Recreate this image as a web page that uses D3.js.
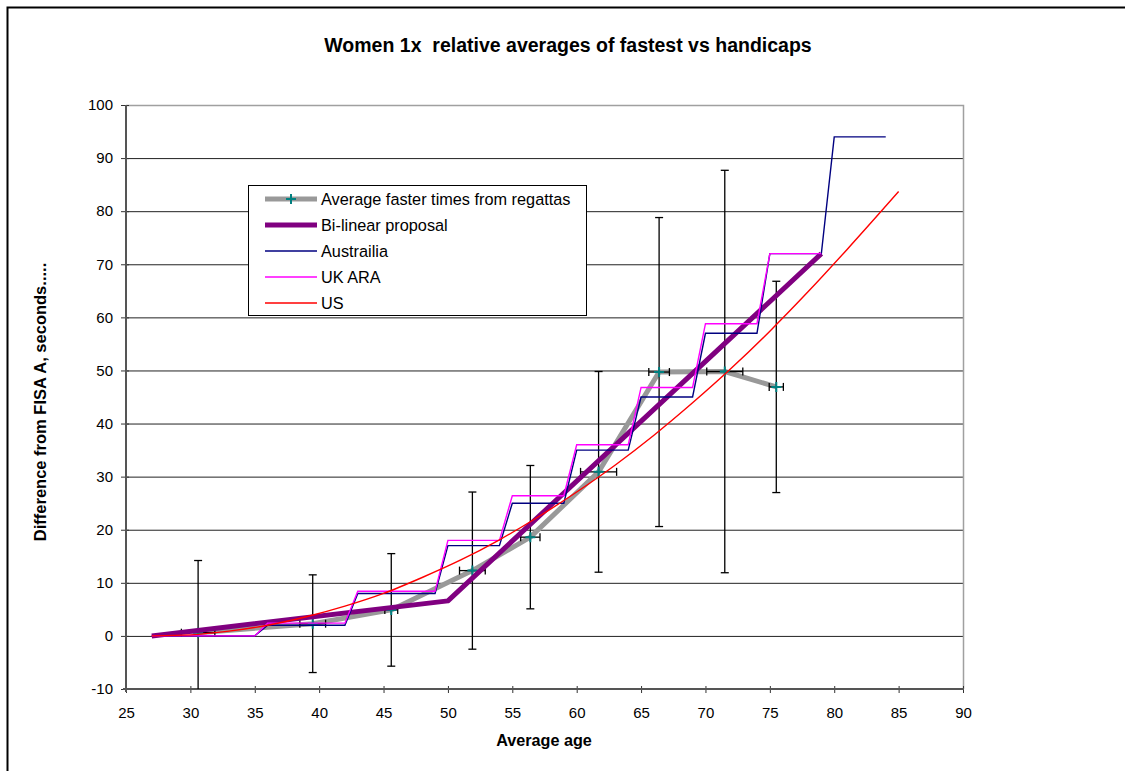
<!DOCTYPE html>
<html>
<head>
<meta charset="utf-8">
<script src="https://cdn.jsdelivr.net/npm/d3@7"></script>
<style>
  body { margin: 0; background: #fff; }
  text { font-family: "Liberation Sans", Arial, sans-serif; }
</style>
</head>
<body>
<script>
// average faster times from regattas (with error bars)
const avgAge = [30.6, 39.5, 45.6, 51.9, 56.4, 61.7, 66.4, 71.5, 75.5]
const avgTime = [0.6, 2.3, 4.9, 12.3, 18.6, 30.9, 49.7, 49.8, 46.9]
const ageErr = [1.3, 1.0, 0.5, 1.0, 0.75, 1.4, 0.8, 1.4, 0.55]
const timeErr = [13.6, 9.2, 10.6, 14.8, 13.5, 18.9, 29.1, 37.9, 19.9]

// bi-linear proposal
const bilinAge = [27, 50, 79]
const bilinTime = [0, 6.6, 72]

// Austrailia steps
const ausAge = [27, 35, 36, 42, 43, 49, 50, 54, 55, 59, 60, 64, 65, 69, 70, 74, 75, 79, 80, 84]
const ausTime = [0, 0, 2, 2, 8, 8, 17, 17, 25, 25, 35, 35, 45, 45, 57, 57, 72, 72, 94, 94]

// UK ARA steps
const ukAge = [27, 35, 36, 42, 43, 49, 50, 54, 55, 59, 60, 64, 65, 69, 70, 74, 75, 79]
const ukTime = [0, 0, 2.4, 2.4, 8.4, 8.4, 18, 18, 26.4, 26.4, 36, 36, 46.8, 46.8, 58.8, 58.8, 72, 72]

// US curve
const usAge = [27, 30, 33, 36, 39, 42, 45, 48, 51, 54, 57, 60, 63, 66, 69, 72, 75, 78, 81, 85]
const usTime = [0, 0.2, 0.9, 2.0, 3.6, 5.6, 8.0, 11.0, 14.3, 18.1, 22.4, 27.1, 32.2, 37.8, 43.9, 50.4, 57.4, 64.9, 72.8, 83.7]

const xTicks = [25, 30, 35, 40, 45, 50, 55, 60, 65, 70, 75, 80, 85, 90]
const yTicks = [-10, 0, 10, 20, 30, 40, 50, 60, 70, 80, 90, 100]

const legendNames = ['Average faster times from regattas', 'Bi-linear proposal', 'Austrailia', 'UK ARA', 'US']

const width = 1125
const height = 771
const plot = {left: 126, right: 963, top: 105, bottom: 689}

const svg = d3.select('body')
  .append('svg')
  .attr('width', width)
  .attr('height', height)

svg.append('rect')
  .attr('x', 0).attr('y', 0)
  .attr('width', width).attr('height', height)
  .attr('fill', '#fff')

// outer chart border
svg.append('rect')
  .attr('x', 7.5).attr('y', 7.5)
  .attr('width', width + 20).attr('height', height + 20)
  .attr('fill', 'none')
  .attr('stroke', '#000')
  .attr('stroke-width', 2)

const x = d3.scaleLinear().domain([25, 90]).range([plot.left, plot.right])
const y = d3.scaleLinear().domain([-10, 100]).range([plot.bottom, plot.top])

svg.append('defs').append('clipPath')
  .attr('id', 'clip')
  .append('rect')
  .attr('x', plot.left).attr('y', plot.top)
  .attr('width', plot.right - plot.left).attr('height', plot.bottom - plot.top)

// gridlines
svg.append('g')
  .selectAll('line')
  .data(yTicks.filter((d) => d > -10 && d < 100))
  .enter()
  .append('line')
  .attr('x1', plot.left).attr('x2', plot.right)
  .attr('y1', (d) => y(d) + 0.5).attr('y2', (d) => y(d) + 0.5)
  .attr('stroke', '#222')
  .attr('stroke-width', 1)

// plot area border (top/right grey)
svg.append('path')
  .attr('d', `M${plot.left},${plot.top + 0.5}H${plot.right + 0.5}V${plot.bottom}`)
  .attr('fill', 'none')
  .attr('stroke', '#a0a0a0')
  .attr('stroke-width', 1.5)

// axes
const fmt = (d) => String(d)
const xAxis = svg.append('g')
  .attr('transform', `translate(0,${plot.bottom})`)
  .call(d3.axisBottom(x).tickValues(xTicks).tickFormat(fmt).tickSizeInner(4).tickSizeOuter(0).tickPadding(14))
xAxis.select('.domain').remove()
xAxis.selectAll('.tick line').attr('y1', -3).attr('stroke', '#333')
xAxis.selectAll('text').attr('font-size', 15).attr('fill', '#000')
  .attr('font-family', '"Liberation Sans", Arial, sans-serif')

const yAxis = svg.append('g')
  .attr('transform', `translate(${plot.left},0)`)
  .call(d3.axisLeft(y).tickValues(yTicks).tickFormat(fmt).tickSizeInner(5).tickSizeOuter(0).tickPadding(8))
yAxis.select('.domain').remove()
yAxis.selectAll('.tick line').attr('x1', 3).attr('stroke', '#333')
yAxis.selectAll('text').attr('font-size', 15).attr('fill', '#000')
  .attr('font-family', '"Liberation Sans", Arial, sans-serif')

svg.append('line')
  .attr('x1', plot.left - 3).attr('x2', plot.right + 1)
  .attr('y1', plot.bottom).attr('y2', plot.bottom)
  .attr('stroke', '#555').attr('stroke-width', 2)
svg.append('line')
  .attr('x1', plot.left).attr('x2', plot.left)
  .attr('y1', plot.top).attr('y2', plot.bottom + 3)
  .attr('stroke', '#555').attr('stroke-width', 2)

const chart = svg.append('g').attr('clip-path', 'url(#clip)')

const toPts = (xs, ys) => xs.map((v, i) => [v, ys[i]])
const line = d3.line().x((d) => x(d[0])).y((d) => y(d[1]))
const smooth = d3.line().x((d) => x(d[0])).y((d) => y(d[1])).curve(d3.curveMonotoneX)

const avgPts = toPts(avgAge, avgTime)

chart.append('path')
  .attr('d', line(avgPts))
  .attr('fill', 'none')
  .attr('stroke', '#999')
  .attr('stroke-width', 5)
  .attr('stroke-linejoin', 'round')

// error bars
const eb = chart.append('g').attr('stroke', '#000').attr('stroke-width', 1.3)
avgPts.forEach((p, i) => {
  const cx = x(p[0])
  const cy = y(p[1])
  const top = y(p[1] + timeErr[i])
  const bot = y(p[1] - timeErr[i])
  const l = x(p[0] - ageErr[i])
  const r = x(p[0] + ageErr[i])
  eb.append('line').attr('x1', cx).attr('x2', cx).attr('y1', top).attr('y2', bot)
  eb.append('line').attr('x1', cx - 4).attr('x2', cx + 4).attr('y1', top).attr('y2', top)
  eb.append('line').attr('x1', cx - 4).attr('x2', cx + 4).attr('y1', bot).attr('y2', bot)
  eb.append('line').attr('x1', l).attr('x2', r).attr('y1', cy).attr('y2', cy)
  eb.append('line').attr('x1', l).attr('x2', l).attr('y1', cy - 4).attr('y2', cy + 4)
  eb.append('line').attr('x1', r).attr('x2', r).attr('y1', cy - 4).attr('y2', cy + 4)
})

// markers
chart.append('g')
  .selectAll('path')
  .data(avgPts)
  .enter()
  .append('path')
  .attr('d', (d) => `M${x(d[0]) - 5},${y(d[1])}h10M${x(d[0])},${y(d[1]) - 5}v10`)
  .attr('stroke', '#008080')
  .attr('stroke-width', 2)

chart.append('path')
  .attr('d', line(toPts(bilinAge, bilinTime)))
  .attr('fill', 'none')
  .attr('stroke', '#800080')
  .attr('stroke-width', 5)
  .attr('stroke-linejoin', 'round')

chart.append('path')
  .attr('d', line(toPts(ausAge, ausTime)))
  .attr('fill', 'none')
  .attr('stroke', '#000080')
  .attr('stroke-width', 1.4)

chart.append('path')
  .attr('d', line(toPts(ukAge, ukTime)))
  .attr('fill', 'none')
  .attr('stroke', '#ff00ff')
  .attr('stroke-width', 1.4)

chart.append('path')
  .attr('d', smooth(toPts(usAge, usTime)))
  .attr('fill', 'none')
  .attr('stroke', '#ff0000')
  .attr('stroke-width', 1.4)

// legend
const legend = svg.append('g')
legend.append('rect')
  .attr('x', 248.5).attr('y', 185.5)
  .attr('width', 338).attr('height', 130)
  .attr('fill', '#fff')
  .attr('stroke', '#000')
  .attr('stroke-width', 1)

const legendStyle = [
  {color: '#999', w: 5},
  {color: '#800080', w: 5},
  {color: '#000080', w: 1.4},
  {color: '#ff00ff', w: 1.4},
  {color: '#ff0000', w: 1.4}
]

const item = legend.selectAll('.item')
  .data(legendNames)
  .enter()
  .append('g')
  .attr('transform', (d, i) => `translate(0,${199 + i * 26})`)

item.append('line')
  .attr('x1', 265).attr('x2', 317)
  .attr('stroke', (d, i) => legendStyle[i].color)
  .attr('stroke-width', (d, i) => legendStyle[i].w)

item.filter((d, i) => i === 0)
  .append('path')
  .attr('d', 'M286,0h10M291,-5v10')
  .attr('stroke', '#008080')
  .attr('stroke-width', 2)

item.append('text')
  .attr('x', 321)
  .attr('dy', '0.35em')
  .attr('font-size', 16.3)
  .text((d) => d)

// titles
svg.append('text')
  .attr('x', 568).attr('y', 52)
  .attr('text-anchor', 'middle')
  .attr('font-size', 19.5)
  .attr('font-weight', 'bold')
  .attr('xml:space', 'preserve')
  .text('Women 1x  relative averages of fastest vs handicaps')

svg.append('text')
  .attr('x', 544).attr('y', 746)
  .attr('text-anchor', 'middle')
  .attr('font-size', 16.2)
  .attr('font-weight', 'bold')
  .text('Average age')

svg.append('text')
  .attr('transform', 'translate(46,402) rotate(-90)')
  .attr('text-anchor', 'middle')
  .attr('font-size', 16.5)
  .attr('font-weight', 'bold')
  .text('Difference from FISA A, seconds.....')
</script>
</body>
</html>
